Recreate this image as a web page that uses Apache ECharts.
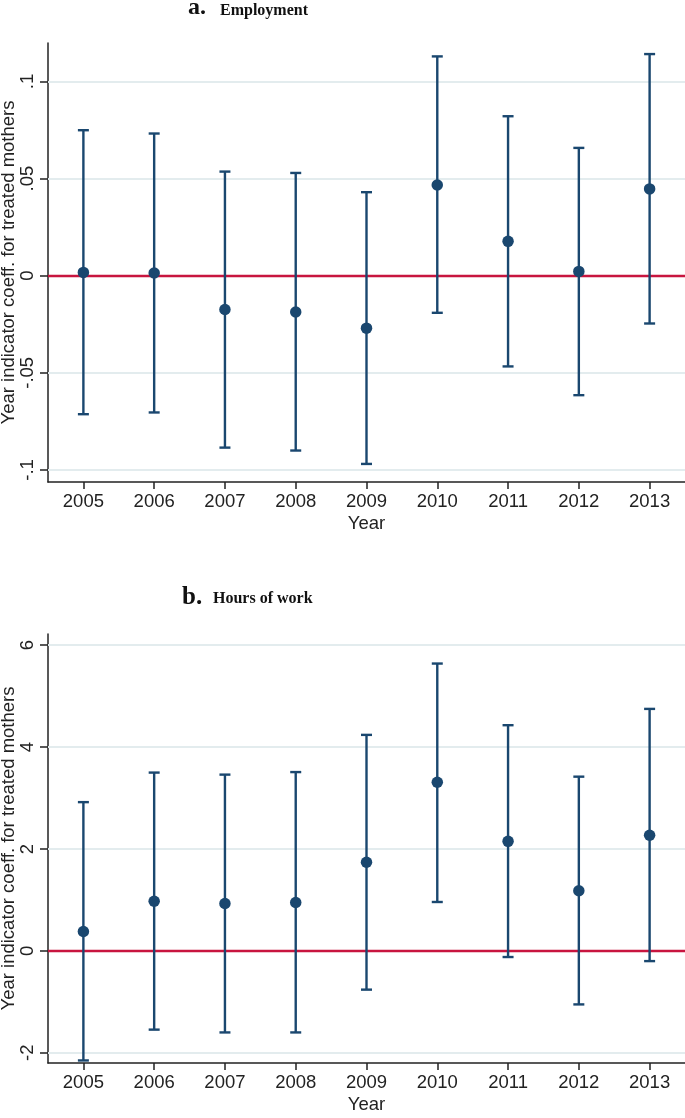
<!DOCTYPE html>
<html>
<head>
<meta charset="utf-8">
<script src="https://cdn.jsdelivr.net/npm/echarts@6/dist/echarts.min.js"></script>
<style>
html,body{margin:0;padding:0;background:#fff;}
#chart{width:685px;height:1118px;}
</style>
</head>
<body>
<div id="chart"></div>
<script>
// ---- data ----
const years = ['2005','2006','2007','2008','2009','2010','2011','2012','2013'];

const empCoef = [0.0017, 0.0014, -0.0174, -0.0187, -0.0270, 0.0467, 0.0177, 0.0022, 0.0447];
const empLow  = [-0.0713, -0.0704, -0.0885, -0.0900, -0.0969, -0.0191, -0.0467, -0.0615, -0.0246];
const empHigh = [0.0749, 0.0732, 0.0536, 0.0529, 0.0430, 0.1129, 0.0821, 0.0658, 0.1141];

const hrsCoef = [0.38, 0.975, 0.93, 0.95, 1.74, 3.31, 2.15, 1.18, 2.27];
const hrsLow  = [-2.15, -1.545, -1.60, -1.60, -0.76, 0.96, -0.12, -1.05, -0.20];
const hrsHigh = [2.92, 3.50, 3.46, 3.51, 4.24, 5.64, 4.43, 3.42, 4.75];

const empTicks = [-0.1, -0.05, 0, 0.05, 0.1];
const hrsTicks = [-2, 0, 2, 4, 6];

const empTitle = ['a.', 'Employment'];
const hrsTitle = ['b.', 'Hours of work'];
const yName = 'Year indicator coeff. for treated mothers';
const xName = 'Year';

// ---- styling ----
const NAVY = '#1a476f';
const RED = '#c8153f';
const GRID = '#e3ecee';
const AXIS = '#222';
const FONT = "'Liberation Sans',Arial,sans-serif";
const SERIF = "'Liberation Serif','Times New Roman',serif";
const FS = 18.5;

function fmtStata(v){
  if (v === 0) return '0';
  let s = String(Math.abs(v)).replace(/^0\./, '.');
  return (v < 0 ? '-' : '') + s;
}

function xAxisCfg(idx){
  return {
    type:'category', gridIndex: idx, data: years, boundaryGap: true, position:'bottom',
    name: xName, nameLocation:'middle', nameGap: 32, nameMoveOverlap:false,
    nameTextStyle:{fontFamily:FONT, fontSize:FS, color:'#222'},
    axisLine:{show:true, onZero:false, lineStyle:{color:AXIS, width:1.5}},
    axisTick:{show:true, alignWithLabel:true, length:7, lineStyle:{color:AXIS, width:1.5}},
    axisLabel:{fontFamily:FONT, fontSize:FS, color:'#222', margin:10, interval:0},
    splitLine:{show:false}
  };
}
function yAxisCfg(idx, min, max, ticks){
  return {
    type:'value', gridIndex: idx, min:min, max:max, position:'left',
    name: yName, nameLocation:'middle', nameGap: 30, nameRotate: 90, nameMoveOverlap:false,
    nameTextStyle:{fontFamily:FONT, fontSize:FS, color:'#222'},
    axisLine:{show:true, onZero:false, lineStyle:{color:AXIS, width:1.5}},
    axisTick:{show:true, length:8, customValues: ticks, lineStyle:{color:AXIS, width:1.5}},
    axisLabel:{fontFamily:FONT, fontSize:FS, color:'#222', rotate:90, margin:11,
      customValues: ticks, formatter: fmtStata},
    splitLine:{show:false}
  };
}

function errSeries(idx, low, high){
  return {
    type:'custom', xAxisIndex: idx, yAxisIndex: idx, z: 3,
    data: low.map((l,i)=>[i, l, high[i]]),
    encode:{x:0, y:[1,2]},
    renderItem: function(params, api){
      const i = api.value(0);
      const p1 = api.coord([i, api.value(1)]);
      const p2 = api.coord([i, api.value(2)]);
      const hw = 5.5;
      const st = {stroke: NAVY, lineWidth: 2.4};
      return {type:'group', children:[
        {type:'line', shape:{x1:p1[0], y1:p1[1], x2:p2[0], y2:p2[1]}, style:st},
        {type:'line', shape:{x1:p1[0]-hw, y1:p1[1], x2:p1[0]+hw, y2:p1[1]}, style:st},
        {type:'line', shape:{x1:p2[0]-hw, y1:p2[1], x2:p2[0]+hw, y2:p2[1]}, style:st}
      ]};
    }
  };
}
function pointSeries(idx, coef){
  return {
    type:'scatter', xAxisIndex: idx, yAxisIndex: idx, z: 4,
    data: coef, symbol:'circle', symbolSize: 11.5,
    itemStyle:{color: NAVY, opacity:1}
  };
}
function refSeries(idx, ticks){
  return {
    type:'line', xAxisIndex: idx, yAxisIndex: idx, z: 1, data: [],
    markLine:{
      z: 1, silent:true, symbol:['none','none'], label:{show:false}, animation:false,
      data: ticks.filter(t=>t!==0).map(t=>({yAxis:t, lineStyle:{color:GRID, width:2, type:'solid', opacity:1}}))
        .concat([{yAxis:0, lineStyle:{color:RED, width:2.3, type:'solid', opacity:1}}])
    }
  };
}

const chart = echarts.init(document.getElementById('chart'), null, {renderer:'canvas'});
const tStyle = (fs)=>({fontFamily:SERIF, fontWeight:'bold', fontSize:fs, color:'#111'});
chart.setOption({
  animation:false,
  backgroundColor:'#fff',
  title:[
    {text: empTitle[0], left:188, top:-4, padding:0, textStyle:tStyle(24)},
    {text: empTitle[1], left:220, top:3, padding:0, textStyle:tStyle(16)},
    {text: hrsTitle[0], left:182, top:585, padding:0, textStyle:tStyle(25)},
    {text: hrsTitle[1], left:213, top:591, padding:0, textStyle:tStyle(16)}
  ],
  grid:[
    {left:48, right:0, top:43, height:439, containLabel:false, outerBoundsMode:'none'},
    {left:48, right:0, top:634, height:429, containLabel:false, outerBoundsMode:'none'}
  ],
  xAxis:[xAxisCfg(0), xAxisCfg(1)],
  yAxis:[yAxisCfg(0, -0.1062, 0.1198, empTicks), yAxisCfg(1, -2.2, 6.22, hrsTicks)],
  series:[
    refSeries(0, empTicks), errSeries(0, empLow, empHigh), pointSeries(0, empCoef),
    refSeries(1, hrsTicks), errSeries(1, hrsLow, hrsHigh), pointSeries(1, hrsCoef)
  ]
});
</script>
</body>
</html>
